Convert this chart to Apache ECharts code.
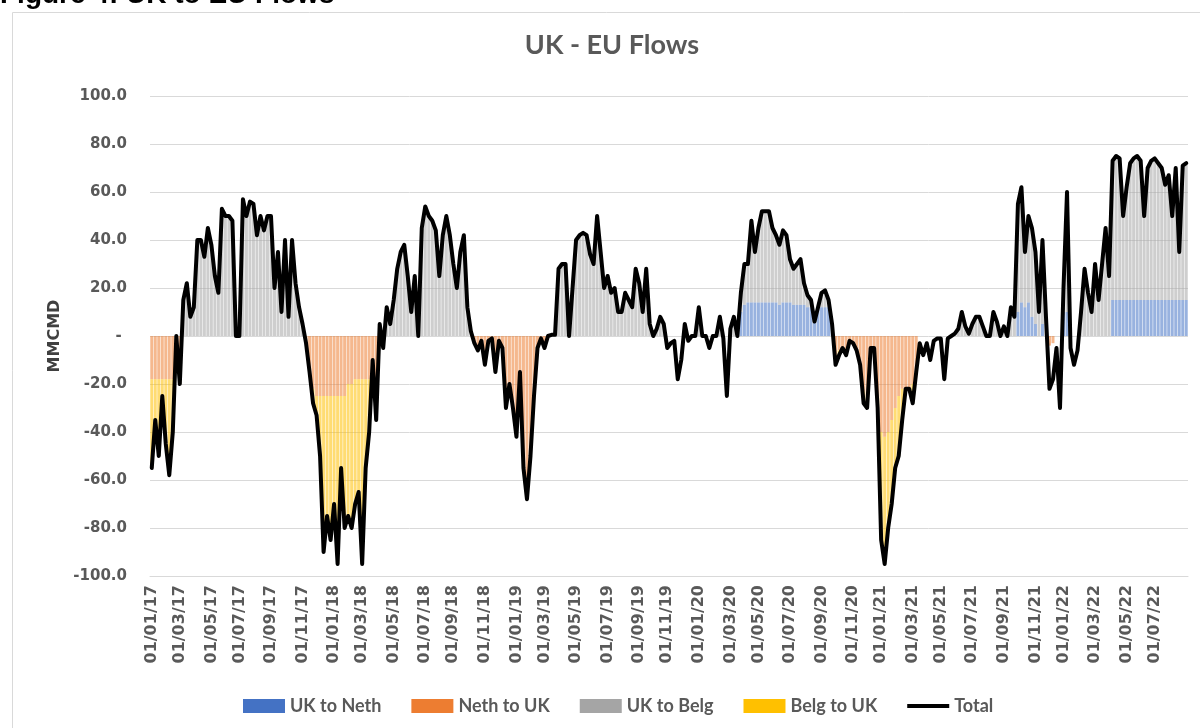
<!DOCTYPE html>
<html>
<head>
<meta charset="utf-8">
<title>UK - EU Flows</title>
<script src="https://cdn.jsdelivr.net/npm/echarts@6/dist/echarts.min.js"></script>
<style>
  html, body { margin: 0; padding: 0; background: #fff; }
  #chart { width: 1200px; height: 728px; }
</style>
</head>
<body>
<div id="chart"></div>
<script>
// Weekly values (MMCMD), first week starting 01/01/17
const total = [
  -55, -35, -50, -25, -45, -58, -40, 0, -20, 15,
  22, 8, 12, 40, 40, 33, 45, 38, 25, 18,
  53, 50, 50, 48, 0, 0, 57, 50, 56, 55,
  42, 50, 44, 50, 50, 20, 35, 10, 40, 8,
  40, 22, 12, 5, -3, -15, -28, -33, -50, -90,
  -75, -85, -70, -95, -55, -80, -75, -80, -70, -65,
  -95, -55, -40, -10, -35, 5, -5, 12, 5, 15,
  28, 35, 38, 25, 10, 25, 0, 45, 54, 50,
  48, 44, 25, 42, 50, 42, 30, 20, 35, 42,
  12, 2, -3, -6, -2, -12, -2, -1, -15, -2,
  -5, -30, -20, -30, -42, -15, -55, -68, -50, -25,
  -5, -1, -5, 0, 0.5, 0.5, 28, 30, 30, 0,
  20, 40, 42, 43, 42, 34, 30, 50, 35, 20,
  25, 18, 20, 10, 10, 18, 15, 12, 28, 22,
  10, 28, 5, 0, 3, 8, 5, -5, -3, -2,
  -18, -10, 5, -2, 0, 0, 12, 0, 0, -5,
  0, 0, 8, -1, -25, 3, 8, 0, 18, 30,
  30, 48, 35, 45, 52, 52, 52, 45, 42, 38,
  44, 42, 32, 28, 30, 32, 22, 17, 15, 6,
  12, 18, 19, 15, 5, -12, -8, -5, -8, -2,
  -3, -6, -12, -28, -30, -5, -5, -30, -85, -95,
  -80, -70, -55, -50, -35, -22, -22, -28, -15, -3,
  -8, -3, -10, -2, -1, -1, -18, -1, 0, 1,
  3, 10, 4, 1, 5, 8, 8, 4, 0, 0,
  10, 6, 0, 4, 0, 12, 8, 55, 62, 35,
  50, 45, 35, 10, 40, 8, -22, -18, -5, -30,
  20, 60, -5, -12, -6, 10, 28, 18, 10, 30,
  15, 30, 45, 25, 73, 75, 74, 50, 62, 72,
  74, 75, 73, 50, 70, 73, 74, 72, 70, 63,
  67, 50, 70, 35, 71, 72
];

const ukToNeth = [
  0, 0, 0, 0, 0, 0, 0, 0, 0, 0,
  0, 0, 0, 0, 0, 0, 0, 0, 0, 0,
  0, 0, 0, 0, 0, 0, 0, 0, 0, 0,
  0, 0, 0, 0, 0, 0, 0, 0, 0, 0,
  0, 0, 0, 0, 0, 0, 0, 0, 0, 0,
  0, 0, 0, 0, 0, 0, 0, 0, 0, 0,
  0, 0, 0, 0, 0, 0, 0, 0, 0, 0,
  0, 0, 0, 0, 0, 0, 0, 0, 0, 0,
  0, 0, 0, 0, 0, 0, 0, 0, 0, 0,
  0, 0, 0, 0, 0, 0, 0, 0, 0, 0,
  0, 0, 0, 0, 0, 0, 0, 0, 0, 0,
  0, 0, 0, 0, 0, 0, 0, 0, 0, 0,
  0, 0, 0, 0, 0, 0, 0, 0, 0, 0,
  0, 0, 0, 0, 0, 0, 0, 0, 0, 0,
  0, 0, 0, 0, 0, 0, 0, 0, 0, 0,
  0, 0, 0, 0, 0, 0, 0, 0, 0, 0,
  0, 0, 0, 0, 0, 0, 0, 0, 10, 13,
  14, 14, 14, 14, 14, 14, 14, 14, 14, 13,
  14, 14, 14, 13, 13, 13, 13, 12, 12, 6,
  12, 12, 12, 12, 5, 0, 0, 0, 0, 0,
  0, 0, 0, 0, 0, 0, 0, 0, 0, 0,
  0, 0, 0, 0, 0, 0, 0, 0, 0, 0,
  0, 0, 0, 0, 0, 0, 0, 0, 0, 0,
  0, 0, 0, 0, 0, 0, 0, 0, 0, 0,
  0, 0, 0, 0, 0, 0, 0, 10, 14, 12,
  14, 8, 5, 0, 5, 0, 0, 0, 0, 0,
  10, 10, 0, 0, 0, 0, 0, 0, 0, 0,
  0, 0, 0, 0, 15, 15, 15, 15, 15, 15,
  15, 15, 15, 15, 15, 15, 15, 15, 15, 15,
  15, 15, 15, 15, 15, 15
];

const nethToUk = [
  -18, -18, -18, -18, -18, -18, -18, 0, -15, 0,
  0, 0, 0, 0, 0, 0, 0, 0, 0, 0,
  0, 0, 0, 0, 0, 0, 0, 0, 0, 0,
  0, 0, 0, 0, 0, 0, 0, 0, 0, 0,
  0, 0, 0, 0, -3, -15, -22, -25, -25, -25,
  -25, -25, -25, -25, -25, -25, -20, -20, -18, -18,
  -18, -18, -18, -10, -18, 0, -5, 0, 0, 0,
  0, 0, 0, 0, 0, 0, 0, 0, 0, 0,
  0, 0, 0, 0, 0, 0, 0, 0, 0, 0,
  0, 0, -3, -6, -2, -12, -2, -1, -15, -2,
  -5, -30, -20, -30, -42, -15, -55, -68, -50, -25,
  -5, -1, -5, 0, 0, 0, 0, 0, 0, 0,
  0, 0, 0, 0, 0, 0, 0, 0, 0, 0,
  0, 0, 0, 0, 0, 0, 0, 0, 0, 0,
  0, 0, 0, 0, 0, 0, 0, 0, 0, 0,
  0, 0, 0, 0, 0, 0, 0, 0, 0, 0,
  0, 0, 0, 0, 0, 0, 0, 0, 0, 0,
  0, 0, 0, 0, 0, 0, 0, 0, 0, 0,
  0, 0, 0, 0, 0, 0, 0, 0, 0, 0,
  0, 0, 0, 0, 0, -12, -6, -5, -8, -2,
  -3, -6, -12, -23, -25, -5, -5, -25, -40, -42,
  -40, -35, -30, -25, -22, -22, -22, -20, -15, 0,
  0, 0, 0, 0, 0, 0, 0, 0, 0, 0,
  0, 0, 0, 0, 0, 0, 0, 0, 0, 0,
  0, 0, 0, 0, 0, 0, 0, 0, 0, 0,
  0, 0, 0, 0, 0, 0, -4, -3, 0, 0,
  0, 0, 0, 0, 0, 0, 0, 0, 0, 0,
  0, 0, 0, 0, 0, 0, 0, 0, 0, 0,
  0, 0, 0, 0, 0, 0, 0, 0, 0, 0,
  0, 0, 0, 0, 0, 0
];

const ukToBelg = [
  0, 0, 0, 0, 0, 0, 0, 0, 0, 15,
  22, 8, 12, 40, 40, 33, 45, 38, 25, 18,
  53, 50, 50, 48, 0, 0, 57, 50, 56, 55,
  42, 50, 44, 50, 50, 20, 35, 10, 40, 8,
  40, 22, 12, 5, 0, 0, 0, 0, 0, 0,
  0, 0, 0, 0, 0, 0, 0, 0, 0, 0,
  0, 0, 0, 0, 0, 5, 0, 12, 5, 15,
  28, 35, 38, 25, 10, 25, 0, 45, 54, 50,
  48, 44, 25, 42, 50, 42, 30, 20, 35, 42,
  12, 2, 0, 0, 0, 0, 0, 0, 0, 0,
  0, 0, 0, 0, 0, 0, 0, 0, 0, 0,
  0, 0, 0, 0, 0.5, 0.5, 28, 30, 30, 0,
  20, 40, 42, 43, 42, 34, 30, 50, 35, 20,
  25, 18, 20, 10, 10, 18, 15, 12, 28, 22,
  10, 28, 5, 0, 3, 8, 5, 0, 0, 0,
  0, 0, 5, 0, 0, 0, 12, 0, 0, 0,
  0, 0, 8, 0, 0, 3, 8, 0, 8, 17,
  16, 34, 21, 31, 38, 38, 38, 31, 28, 25,
  30, 28, 18, 15, 17, 19, 9, 5, 3, 0,
  0, 6, 7, 3, 0, 0, 0, 0, 0, 0,
  0, 0, 0, 0, 0, 0, 0, 0, 0, 0,
  0, 0, 0, 0, 0, 0, 0, 0, 0, 0,
  0, 0, 0, 0, 0, 0, 0, 0, 0, 1,
  3, 10, 4, 1, 5, 8, 8, 4, 0, 0,
  10, 6, 0, 4, 0, 12, 8, 45, 48, 23,
  36, 37, 30, 10, 35, 8, 0, 0, 0, 0,
  10, 50, 0, 0, 0, 10, 28, 18, 10, 30,
  15, 30, 45, 25, 58, 60, 59, 35, 47, 57,
  59, 60, 58, 35, 55, 58, 59, 57, 55, 48,
  52, 35, 55, 20, 56, 57
];

const belgToUk = [
  -37, -17, -32, -7, -27, -40, -22, 0, -5, 0,
  0, 0, 0, 0, 0, 0, 0, 0, 0, 0,
  0, 0, 0, 0, 0, 0, 0, 0, 0, 0,
  0, 0, 0, 0, 0, 0, 0, 0, 0, 0,
  0, 0, 0, 0, 0, 0, -6, -8, -25, -65,
  -50, -60, -45, -70, -30, -55, -55, -60, -52, -47,
  -77, -37, -22, 0, -17, 0, 0, 0, 0, 0,
  0, 0, 0, 0, 0, 0, 0, 0, 0, 0,
  0, 0, 0, 0, 0, 0, 0, 0, 0, 0,
  0, 0, 0, 0, 0, 0, 0, 0, 0, 0,
  0, 0, 0, 0, 0, 0, 0, 0, 0, 0,
  0, 0, 0, 0, 0, 0, 0, 0, 0, 0,
  0, 0, 0, 0, 0, 0, 0, 0, 0, 0,
  0, 0, 0, 0, 0, 0, 0, 0, 0, 0,
  0, 0, 0, 0, 0, 0, 0, 0, 0, 0,
  0, 0, 0, 0, 0, 0, 0, 0, 0, 0,
  0, 0, 0, 0, 0, 0, 0, 0, 0, 0,
  0, 0, 0, 0, 0, 0, 0, 0, 0, 0,
  0, 0, 0, 0, 0, 0, 0, 0, 0, 0,
  0, 0, 0, 0, 0, 0, -2, 0, 0, 0,
  0, 0, 0, -5, -5, 0, 0, -5, -45, -53,
  -40, -35, -25, -25, -13, 0, 0, -8, 0, 0,
  0, 0, 0, 0, 0, 0, 0, 0, 0, 0,
  0, 0, 0, 0, 0, 0, 0, 0, 0, 0,
  0, 0, 0, 0, 0, 0, 0, 0, 0, 0,
  0, 0, 0, 0, 0, 0, 0, 0, 0, 0,
  0, 0, 0, 0, 0, 0, 0, 0, 0, 0,
  0, 0, 0, 0, 0, 0, 0, 0, 0, 0,
  0, 0, 0, 0, 0, 0, 0, 0, 0, 0,
  0, 0, 0, 0, 0, 0
];

const tickLabels = [
  '01/01/17', '01/03/17', '01/05/17', '01/07/17', '01/09/17', '01/11/17',
  '01/01/18', '01/03/18', '01/05/18', '01/07/18', '01/09/18', '01/11/18',
  '01/01/19', '01/03/19', '01/05/19', '01/07/19', '01/09/19', '01/11/19',
  '01/01/20', '01/03/20', '01/05/20', '01/07/20', '01/09/20', '01/11/20',
  '01/01/21', '01/03/21', '01/05/21', '01/07/21', '01/09/21', '01/11/21',
  '01/01/22', '01/03/22', '01/05/22', '01/07/22'
];

// one category per week
const startDate = Date.UTC(2017, 0, 1);
const weekMs = 7 * 24 * 3600 * 1000;
const weeks = total.map((_, i) => new Date(startDate + i * weekMs).toISOString().slice(0, 10));

// put each tick label on the week that holds its date
const labelAt = {};
tickLabels.forEach((lab) => {
  const [d, m, y] = lab.split('/').map(Number);
  const idx = Math.floor((Date.UTC(2000 + y, m - 1, d) - startDate) / weekMs);
  labelAt[idx] = lab;
});

const textGray = '#595959';
const gridGray = '#d9d9d9';

const barSeries = (name, data, color) => ({
  name,
  type: 'bar',
  stack: 'flows',
  data,
  barCategoryGap: '15%',
  itemStyle: { color, opacity: 0.55 },
  emphasis: { disabled: true }
});

const chart = echarts.init(document.getElementById('chart'));

chart.setOption({
  animation: false,
  graphic: [
    {
      type: 'rect',
      shape: { x: 12.5, y: 12.5, width: 1210, height: 740 },
      style: { fill: 'none', stroke: gridGray, lineWidth: 1 },
      silent: true
    },
    {
      type: 'text',
      x: 0,
      y: -5,
      style: {
        text: 'Figure 4: UK to EU Flows',
        font: 'bold 28px "Liberation Sans", Arial, sans-serif',
        fill: '#000',
        verticalAlign: 'middle'
      },
      silent: true
    }
  ],
  title: {
    text: 'UK - EU Flows',
    left: 612,
    top: 32,
    padding: 0,
    textAlign: 'center',
    textStyle: { fontFamily: 'Lato', fontWeight: 'bold', fontSize: 27, color: textGray }
  },
  legend: {
    left: 238,
    top: 692,
    itemWidth: 42,
    itemHeight: 14,
    itemGap: 30,
    textStyle: { fontFamily: 'Lato', fontWeight: 'bold', fontSize: 18, color: textGray },
    data: [
      { name: 'UK to Neth', icon: 'rect', itemStyle: { opacity: 1 } },
      { name: 'Neth to UK', icon: 'rect', itemStyle: { opacity: 1 } },
      { name: 'UK to Belg', icon: 'rect', itemStyle: { opacity: 1 } },
      { name: 'Belg to UK', icon: 'rect', itemStyle: { opacity: 1 } },
      { name: 'Total', icon: 'path://M0,0H42V4H0Z', itemStyle: { color: '#000' } }
    ]
  },
  grid: { left: 150, right: 12, top: 96, bottom: 152, outerBoundsMode: 'none' },
  xAxis: {
    type: 'category',
    data: weeks,
    axisTick: { show: false },
    axisLine: { onZero: false, lineStyle: { color: gridGray } },
    axisLabel: {
      interval: (i) => i in labelAt,
      formatter: (v, i) => labelAt[i] || '',
      rotate: 90,
      margin: 9,
      fontFamily: 'DejaVu Sans',
      fontWeight: 'bold',
      fontSize: 16,
      color: textGray
    }
  },
  yAxis: {
    type: 'value',
    min: -100,
    max: 100,
    interval: 20,
    name: 'MMCMD',
    nameLocation: 'middle',
    nameGap: 86,
    nameTextStyle: { fontFamily: 'DejaVu Sans', fontWeight: 'bold', fontSize: 16, color: '#404040' },
    axisLine: { show: false },
    axisTick: { show: false },
    splitLine: { lineStyle: { color: gridGray } },
    axisLabel: {
      margin: 23,
      formatter: (v) => (v === 0 ? '- ' : v.toFixed(1)),
      fontFamily: 'DejaVu Sans',
      fontWeight: 'bold',
      fontSize: 15,
      color: textGray
    }
  },
  series: [
    barSeries('UK to Neth', ukToNeth, '#4472C4'),
    barSeries('Neth to UK', nethToUk, '#ED7D31'),
    barSeries('UK to Belg', ukToBelg, '#A5A5A5'),
    barSeries('Belg to UK', belgToUk, '#FFC000'),
    {
      name: 'Total',
      type: 'line',
      data: total,
      symbol: 'none',
      z: 5,
      itemStyle: { color: '#000' },
      lineStyle: { color: '#000', width: 4, join: 'round', cap: 'round' },
      emphasis: { disabled: true }
    }
  ]
});
</script>
</body>
</html>
